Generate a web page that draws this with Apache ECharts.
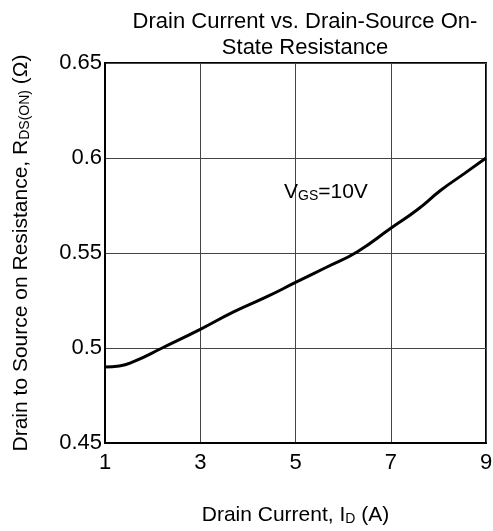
<!DOCTYPE html>
<html><head><meta charset="utf-8">
<script src="https://cdn.jsdelivr.net/npm/echarts@6/dist/echarts.min.js"></script>
<style>html,body{margin:0;padding:0;background:#fff}#c{width:493px;height:531px}</style>
</head><body><div id="c"></div>
<script>
const current = [1, 1.3, 1.6, 2.2, 3, 3.7, 4.4, 5, 5.65, 6.3, 7, 7.55, 8.05, 8.55, 9];
const resistance = [0.490, 0.4905, 0.4928, 0.500, 0.5098, 0.519, 0.527, 0.5345, 0.5425, 0.5507, 0.563, 0.5726, 0.583, 0.5919, 0.600];
const xTicks = [1, 3, 5, 7, 9];
const yTicks = [0.45, 0.5, 0.55, 0.6, 0.65];
const titleLines = ['Drain Current vs. Drain-Source On-', 'State Resistance'];
const annotation = {main: 'V', sub: 'GS', rest: '=10V'};

const F = 'Liberation Sans, Arial, sans-serif';
const chart = echarts.init(document.getElementById('c'));
chart.setOption({
  animation: false,
  backgroundColor: '#fff',
  title: {
    text: titleLines.join('\n'),
    left: 300, top: 4, textAlign: 'center',
    textStyle: {fontFamily: F, fontSize: 22, fontWeight: 'normal', color: '#000', lineHeight: 26}
  },
  grid: {left: 105, right: 7, top: 63, bottom: 88, containLabel: false, outerBoundsMode: 'none',
    show: true, borderColor: '#000', borderWidth: 2, backgroundColor: 'transparent'},
  xAxis: {
    type: 'value', min: 1, max: 9, interval: 2,
    name: '{n|Drain Current, I}{s|D}{n| (A)}',
    nameLocation: 'middle', nameGap: 61,
    nameTextStyle: {rich: {
      n: {fontFamily: F, fontSize: 21, color: '#000'},
      s: {fontFamily: F, fontSize: 14, color: '#000', padding: [8, 0, 0, 0]}
    }},
    axisLine: {show: true, lineStyle: {color: '#000', width: 2}},
    axisTick: {show: false},
    axisLabel: {fontFamily: F, fontSize: 22, color: '#000', margin: 9,
      formatter: v => xTicks.includes(v) ? String(v) : ''},
    splitLine: {show: true, lineStyle: {color: '#444', width: 1}}
  },
  yAxis: {
    type: 'value', min: 0.45, max: 0.65, interval: 0.05,
    name: '{n|Drain to Source on Resistance, R}{s|DS(ON)}{n| (Ω)}',
    nameLocation: 'middle', nameGap: 73, nameRotate: 90,
    nameTextStyle: {rich: {
      n: {fontFamily: F, fontSize: 21, color: '#000'},
      s: {fontFamily: F, fontSize: 14, color: '#000', padding: [8, 0, 0, 0]}
    }},
    axisLine: {show: true, lineStyle: {color: '#000', width: 2}},
    axisTick: {show: false},
    axisLabel: {fontFamily: F, fontSize: 22, color: '#000', margin: 3,
      formatter: v => {
        const t = yTicks.find(y => Math.abs(y - v) < 1e-6);
        return t === undefined ? '' : String(t);
      }},
    splitLine: {show: true, lineStyle: {color: '#444', width: 1}}
  },
  series: [{
    type: 'line', smooth: true, symbol: 'none',
    data: current.map((x, i) => [x, resistance[i]]),
    lineStyle: {color: '#000', width: 3}
  }],
  graphic: [
    {type: 'text', left: 284, top: 182, z: 100,
     style: {
       text: '{n|' + annotation.main + '}{s|' + annotation.sub + '}{n|' + annotation.rest + '}',
       rich: {
         n: {fontFamily: F, fontSize: 21, fill: '#000'},
         s: {fontFamily: F, fontSize: 14, fill: '#000', padding: [7, 0, 0, 0]}
       }
     }}
  ]
});
</script></body></html>
